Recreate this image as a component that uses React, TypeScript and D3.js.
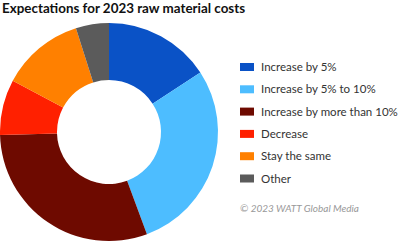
import React from "react";
import * as d3 from "d3";

const categories = [
  "Increase by 5%",
  "Increase by 5% to 10%",
  "Increase by more than 10%",
  "Decrease",
  "Stay the same",
  "Other",
];
const values = [15.8, 28.5, 30.2, 8.2, 12.3, 4.9];
const colors = ["#0a52c6", "#4dbdff", "#6e0a00", "#ff2000", "#ff8000", "#5b5b5b"];
const title = "Expectations for 2023 raw material costs";
const credit = "© 2023 WATT Global Media";

export default function App() {
  const W = 400;
  const H = 241;
  const cx = 109;
  const cy = 132;
  const outerR = 109;
  const innerR = 52;

  const pie = d3.pie<number>().sort(null).value((d) => d);
  const arcs = pie(values);
  const arc = d3.arc<d3.PieArcDatum<number>>().innerRadius(innerR).outerRadius(outerR);

  const legendX = 240;
  const legendY0 = 67;
  const legendStep = 22.3;

  return (
    <svg
      width={W}
      height={H}
      style={{ position: "fixed", left: 0, top: 0, background: "#fff" }}
      fontFamily="Lato, 'Open Sans', sans-serif"
    >
      <rect width={W} height={H} fill="#fff" />
      <text x={2} y={13} fontSize={13.4} fontWeight={700} fill="#111">
        {title}
      </text>
      <g transform={`translate(${cx},${cy})`}>
        {arcs.map((a, i) => (
          <path key={i} d={arc(a) || ""} fill={colors[i]} />
        ))}
      </g>
      {categories.map((c, i) => (
        <g key={c} transform={`translate(${legendX},${legendY0 + i * legendStep})`}>
          <rect x={0} y={-4} width={14} height={8} fill={colors[i]} />
          <text x={21} y={4} fontSize={11.5} fill="#333">
            {c}
          </text>
        </g>
      ))}
      <text x={240} y={212} fontSize={10} fontStyle="italic" fill="#999">
        {credit}
      </text>
    </svg>
  );
}
